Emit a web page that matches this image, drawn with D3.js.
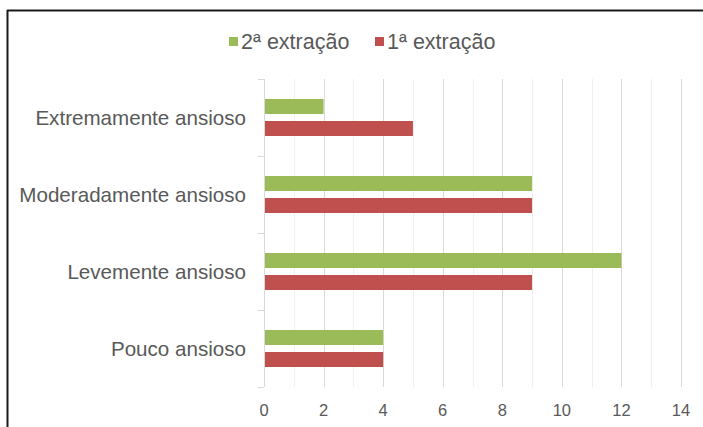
<!DOCTYPE html>
<html>
<head>
<meta charset="utf-8">
<script src="https://cdn.jsdelivr.net/npm/d3@7/dist/d3.min.js"></script>
<style>
  html, body { margin: 0; padding: 0; background: #fff; }
  svg { display: block; }
  text { font-family: "Liberation Sans", Arial, sans-serif; fill: #595959; }
</style>
</head>
<body>
<svg id="chart" width="703" height="427"></svg>
<script>
// Anxiety levels, top to bottom
const categories = ["Extremamente ansioso", "Moderadamente ansioso", "Levemente ansioso", "Pouco ansioso"];
const seriesNames = ["2ª extração", "1ª extração"];
const extraction2 = [2, 9, 12, 4];
const extraction1 = [5, 9, 9, 4];
const xTicks = [0, 2, 4, 6, 8, 10, 12, 14];
const colors = ["#9BBB59", "#C0504D"];

const svg = d3.select("#chart");
const W = 703, H = 427;
const plot = { left: 264, right: 681, top: 79, bottom: 387 };

// frame
svg.append("line").attr("x1", 7).attr("x2", W).attr("y1", 10.5).attr("y2", 10.5)
  .attr("stroke", "#1a1a1a").attr("stroke-width", 2);
svg.append("line").attr("x1", 7.5).attr("x2", 7.5).attr("y1", 10).attr("y2", H)
  .attr("stroke", "#1a1a1a").attr("stroke-width", 2);

const x = d3.scaleLinear().domain([0, 14]).range([plot.left, plot.right]);
const y = d3.scaleBand().domain(categories).range([plot.top, plot.bottom]).padding(0);
const ySub = d3.scaleBand().domain(seriesNames).range([0, y.bandwidth()])
  .paddingInner(7 / 22).paddingOuter(20 / 22);

// minor gridlines
svg.append("g").selectAll("line").data(d3.range(1, 15, 2)).join("line")
  .attr("x1", d => Math.round(x(d)) + 0.5).attr("x2", d => Math.round(x(d)) + 0.5)
  .attr("y1", plot.top).attr("y2", plot.bottom)
  .attr("stroke", "#efefef").attr("stroke-width", 1);
// major gridlines
svg.append("g").selectAll("line").data(xTicks.slice(1)).join("line")
  .attr("x1", d => Math.round(x(d)) + 0.5).attr("x2", d => Math.round(x(d)) + 0.5)
  .attr("y1", plot.top).attr("y2", plot.bottom)
  .attr("stroke", "#d9d9d9").attr("stroke-width", 1);

// category axis with boundary ticks
const yAxisG = svg.append("g");
yAxisG.append("line").attr("x1", plot.left + 0.5).attr("x2", plot.left + 0.5)
  .attr("y1", plot.top).attr("y2", plot.bottom).attr("stroke", "#d9d9d9");
const bounds = categories.map(c => y(c)).concat([plot.bottom]);
yAxisG.selectAll("line.tk").data(bounds).join("line").attr("class", "tk")
  .attr("x1", plot.left - 6).attr("x2", plot.left)
  .attr("y1", d => Math.round(d) + 0.5).attr("y2", d => Math.round(d) + 0.5)
  .attr("stroke", "#d9d9d9");
yAxisG.selectAll("text").data(categories).join("text")
  .attr("x", 246).attr("y", d => y(d) + y.bandwidth() / 2)
  .attr("text-anchor", "end").attr("dominant-baseline", "central")
  .style("font-size", "20.6px").text(d => d);

// value axis labels
svg.append("g").selectAll("text").data(xTicks).join("text")
  .attr("x", d => x(d)).attr("y", 410)
  .attr("text-anchor", "middle").attr("dominant-baseline", "central")
  .style("font-size", "16.5px").text(d => d);

// bars
const rows = categories.map((c, i) => ({ cat: c, vals: [extraction2[i], extraction1[i]] }));
const groups = svg.append("g").selectAll("g").data(rows).join("g")
  .attr("transform", d => `translate(0,${y(d.cat)})`);
groups.selectAll("rect").data(d => d.vals.map((v, j) => ({ name: seriesNames[j], v, j }))).join("rect")
  .attr("x", x(0) + 1).attr("y", d => ySub(d.name))
  .attr("width", d => x(d.v) - x(0) - 1).attr("height", ySub.bandwidth())
  .attr("fill", d => colors[d.j]);

// legend
const legendItems = [{ name: seriesNames[0], c: colors[0], x: 229 }, { name: seriesNames[1], c: colors[1], x: 375 }];
const lg = svg.append("g").selectAll("g").data(legendItems).join("g")
  .attr("transform", d => `translate(${d.x},0)`);
lg.append("rect").attr("x", 0).attr("y", 37).attr("width", 9).attr("height", 9).attr("fill", d => d.c);
lg.append("text").attr("x", 12).attr("y", 42).attr("dominant-baseline", "central")
  .style("font-size", "21.5px").text(d => d.name);
</script>
</body>
</html>
